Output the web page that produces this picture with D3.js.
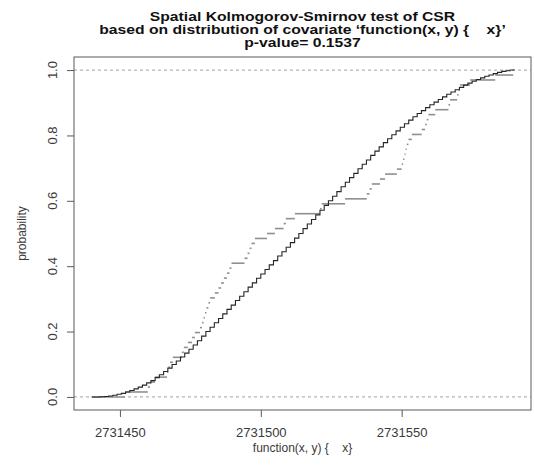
<!DOCTYPE html>
<html>
<head>
<meta charset="utf-8">
<script src="https://cdn.jsdelivr.net/npm/d3@7"></script>
<style>
  html, body { margin: 0; padding: 0; background: #fff; }
  svg { display: block; font-family: "Liberation Sans", Arial, sans-serif; }
  text { white-space: pre; }
</style>
</head>
<body>
<svg id="chart" width="534" height="468"></svg>
<script>
// Title lines
const titleLines = [
  "Spatial Kolmogorov-Smirnov test of CSR",
  "based on distribution of covariate \u2018function(x, y) {    x}\u2019",
  "p-value= 0.1537"
];
const xLabel = "function(x, y) {    x}";
const yLabel = "probability";

// Axis ticks
const xTicks = [2731450, 2731500, 2731550];
const yTicks = [0, 0.2, 0.4, 0.6, 0.8, 1.0];
const yTickLabels = ["0.0", "0.2", "0.4", "0.6", "0.8", "1.0"];

// Range of the covariate over the window
const covariateRange = [2731440, 2731590];

// Expected (null) distribution function of the covariate
const expectedX = [
  2731440, 2731441.5, 2731443, 2731444.5, 2731446, 2731447.5, 2731449, 2731450.5, 2731452, 2731453.5,
  2731455, 2731456.5, 2731458, 2731459.5, 2731461, 2731462.5, 2731464, 2731465.5, 2731467, 2731468.5,
  2731470, 2731471.5, 2731473, 2731474.5, 2731476, 2731477.5, 2731479, 2731480.5, 2731482, 2731483.5,
  2731485, 2731486.5, 2731488, 2731489.5, 2731491, 2731492.5, 2731494, 2731495.5, 2731497, 2731498.5,
  2731500, 2731501.5, 2731503, 2731504.5, 2731506, 2731507.5, 2731509, 2731510.5, 2731512, 2731513.5,
  2731515, 2731516.5, 2731518, 2731519.5, 2731521, 2731522.5, 2731524, 2731525.5, 2731527, 2731528.5,
  2731530, 2731531.5, 2731533, 2731534.5, 2731536, 2731537.5, 2731539, 2731540.5, 2731542, 2731543.5,
  2731545, 2731546.5, 2731548, 2731549.5, 2731551, 2731552.5, 2731554, 2731555.5, 2731557, 2731558.5,
  2731560, 2731561.5, 2731563, 2731564.5, 2731566, 2731567.5, 2731569, 2731570.5, 2731572, 2731573.5,
  2731575, 2731576.5, 2731578, 2731579.5, 2731581, 2731582.5, 2731584, 2731585.5, 2731587, 2731588.5,
  2731590
];
const expectedP = [
  0.000, 0.000, 0.0005, 0.0015, 0.003, 0.005, 0.008, 0.011, 0.015, 0.0195,
  0.0245, 0.030, 0.036, 0.043, 0.050, 0.059, 0.068, 0.078, 0.088, 0.099,
  0.110, 0.122, 0.134, 0.146, 0.159, 0.172, 0.186, 0.200, 0.213, 0.227,
  0.240, 0.254, 0.268, 0.281, 0.295, 0.308, 0.322, 0.336, 0.349, 0.363,
  0.376, 0.390, 0.404, 0.417, 0.431, 0.444, 0.458, 0.472, 0.486, 0.500,
  0.515, 0.529, 0.543, 0.557, 0.571, 0.586, 0.600, 0.614, 0.628, 0.643,
  0.657, 0.671, 0.684, 0.698, 0.712, 0.725, 0.739, 0.752, 0.765, 0.778,
  0.790, 0.802, 0.814, 0.825, 0.836, 0.847, 0.857, 0.867, 0.876, 0.885,
  0.894, 0.902, 0.910, 0.918, 0.926, 0.933, 0.940, 0.947, 0.954, 0.960,
  0.966, 0.971, 0.976, 0.981, 0.985, 0.989, 0.993, 0.996, 0.998, 1.000,
  1.000
];

// Covariate values observed at the data points (sorted)
const observedValues = [
  2731451.8, 2731459.9, 2731460.7, 2731462.4, 2731466.7, 2731467.2, 2731467.8, 2731468.8, 2731472.0, 2731472.7,
  2731474.1, 2731475.6, 2731476.6, 2731478.4, 2731479.1, 2731479.7, 2731480.2, 2731480.7, 2731481.4, 2731482.0,
  2731483.7, 2731485.0, 2731485.9, 2731486.9, 2731488.0, 2731488.9, 2731489.6, 2731494.2, 2731495.3, 2731496.0,
  2731496.7, 2731497.9, 2731502.2, 2731505.0, 2731508.1, 2731508.9, 2731512.1, 2731521.0, 2731521.6, 2731529.9,
  2731537.6, 2731538.6, 2731539.4, 2731542.3, 2731544.1, 2731548.3, 2731550.0, 2731550.5, 2731551.0, 2731551.4,
  2731551.8, 2731552.4, 2731553.6, 2731557.1, 2731558.3, 2731558.9, 2731559.5, 2731561.9, 2731566.6, 2731567.2,
  2731569.7, 2731570.2, 2731570.7, 2731574.3, 2731583.2, 2731589.6
];

const svg = d3.select("#chart");
const plot = { left: 74, right: 531, top: 57, bottom: 410 };

const x = d3.scaleLinear().domain([2731433.7, 2731595.9]).range([plot.left, plot.right]);
const y = d3.scaleLinear().domain([-0.04, 1.04]).range([plot.bottom, plot.top]);

// Reference lines at 0 and 1
svg.append("g").selectAll("line").data([0, 1]).join("line")
  .attr("x1", plot.left).attr("x2", plot.right)
  .attr("y1", d => y(d)).attr("y2", d => y(d))
  .attr("stroke", "#b4b4b4").attr("stroke-width", 1.2)
  .attr("stroke-dasharray", "3,3");

// Observed empirical distribution: horizontal pieces only
const n = observedValues.length;
const obsSegments = d3.range(n + 1).map(i => ({
  x0: i === 0 ? covariateRange[0] : observedValues[i - 1],
  x1: i === n ? covariateRange[1] : observedValues[i],
  p: i / n
}));
svg.append("g").selectAll("line").data(obsSegments).join("line")
  .attr("x1", d => x(d.x0)).attr("x2", d => x(d.x1))
  .attr("y1", d => y(d.p)).attr("y2", d => y(d.p))
  .attr("stroke", "#8f8f8f").attr("stroke-width", 1.6);

// Expected distribution as a staircase
const expected = expectedX.map((v, i) => [v, expectedP[i]]);
svg.append("path").datum(expected)
  .attr("fill", "none").attr("stroke", "#262626").attr("stroke-width", 1.1)
  .attr("d", d3.line().x(d => x(d[0])).y(d => y(d[1])).curve(d3.curveStepAfter));

// Frame
svg.append("rect")
  .attr("x", plot.left).attr("y", plot.top)
  .attr("width", plot.right - plot.left).attr("height", plot.bottom - plot.top)
  .attr("fill", "none").attr("stroke", "#5a5a5a").attr("stroke-width", 1);

// X axis
const xAxis = svg.append("g").attr("transform", `translate(0,${plot.bottom})`)
  .call(d3.axisBottom(x).tickValues(xTicks).tickSize(7).tickPadding(11).tickFormat(d3.format("d")));
xAxis.select(".domain").remove();
xAxis.selectAll("line").attr("stroke", "#5a5a5a");
xAxis.selectAll("text").attr("fill", "#3a3a3a").style("font-size", "13px")
  .style("font-family", "'Liberation Sans', Arial, sans-serif");

// Y axis
const yAxis = svg.append("g").attr("transform", `translate(${plot.left},0)`)
  .call(d3.axisLeft(y).tickValues(yTicks).tickSize(7).tickFormat(""));
yAxis.select(".domain").remove();
yAxis.selectAll("line").attr("stroke", "#5a5a5a");
svg.append("g").selectAll("text").data(yTicks).join("text")
  .attr("transform", d => `translate(57,${y(d)}) rotate(-90)`)
  .attr("text-anchor", "middle")
  .attr("fill", "#3a3a3a").style("font-size", "13px")
  .text((d, i) => yTickLabels[i]);

// Axis titles
svg.append("text")
  .attr("x", (plot.left + plot.right) / 2).attr("y", 452)
  .attr("text-anchor", "middle").attr("fill", "#3a3a3a").style("font-size", "12px")
  .text(xLabel);
svg.append("text")
  .attr("transform", `translate(26,${(plot.top + plot.bottom) / 2}) rotate(-90)`)
  .attr("text-anchor", "middle").attr("fill", "#3a3a3a").style("font-size", "12px")
  .text(yLabel);

// Main title: bold, slightly widened so the middle line spans 407px
const titleBaselines = [20.5, 33.5, 46.5];
const titleSize = 12.5;
const cx = (plot.left + plot.right) / 2;
const title = svg.append("g");
const titleTexts = title.selectAll("text").data(titleLines).join("text")
  .attr("x", 0).attr("y", 0)
  .attr("text-anchor", "middle")
  .attr("fill", "#111")
  .style("font-weight", "bold")
  .style("font-size", titleSize + "px")
  .text(d => d);
const midWidth = titleTexts.nodes()[1].getComputedTextLength();
const sx = 407 / midWidth;
titleTexts.attr("transform", (d, i) => `translate(${cx},${titleBaselines[i]}) scale(${sx.toFixed(4)},1)`);
</script>
</body>
</html>
